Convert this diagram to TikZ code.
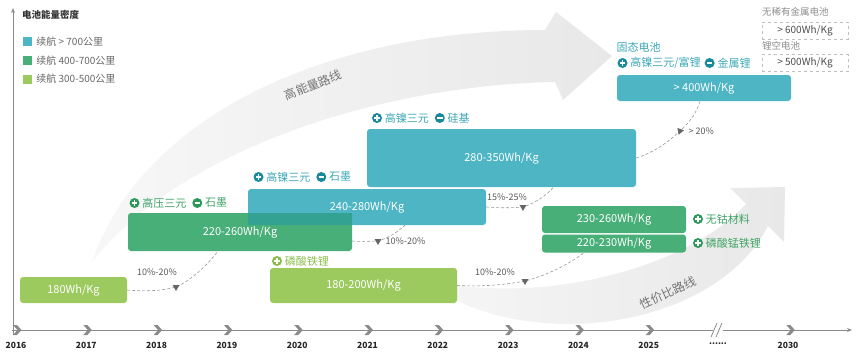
\documentclass[tikz,border=0pt]{standalone}
\usepackage{fontspec}
\setmainfont{Noto Sans CJK SC}
\usetikzlibrary{positioning,shapes.geometric,arrows.meta,backgrounds}

\definecolor{tealbox}{HTML}{4DB5C4}
\definecolor{greenbox}{HTML}{48AF78}
\definecolor{limebox}{HTML}{9CCA5E}
\definecolor{overlapbox}{HTML}{33A293}
\definecolor{tealic}{HTML}{17899A}
\definecolor{greenic}{HTML}{2B9A58}
\definecolor{limeic}{HTML}{86BD45}
\definecolor{tealtx}{HTML}{3CA7B7}
\definecolor{greentx}{HTML}{3FA466}
\definecolor{limetx}{HTML}{8DBE4E}
\definecolor{axisgray}{HTML}{8A8A8A}

\begin{document}
\begin{tikzpicture}[x=1pt,y=-1pt]
\tikzstyle{box} = [rectangle, rounded corners=3pt, text=white, inner sep=0pt,
font=\fontsize{11}{13}\selectfont]
\tikzstyle{dbox} = [rectangle, draw=gray!50, dashed, text=black!70, inner sep=0pt,
minimum width=86pt, minimum height=17pt, font=\fontsize{10}{12}\selectfont]
\tikzstyle{ic} = [circle, inner sep=0pt, minimum size=10pt]
\tikzstyle{plus} = [ic, path picture={\draw[white, line width=1.4pt]
([xshift=-2.7pt]path picture bounding box.center) -- ([xshift=2.7pt]path picture bounding box.center)
([yshift=-2.7pt]path picture bounding box.center) -- ([yshift=2.7pt]path picture bounding box.center);}]
\tikzstyle{minus} = [ic, path picture={\draw[white, line width=1.4pt]
([xshift=-2.7pt]path picture bounding box.center) -- ([xshift=2.7pt]path picture bounding box.center);}]
\tikzstyle{ann} = [inner sep=0.5pt, font=\fontsize{11}{12}\selectfont]
\tikzstyle{pct} = [inner sep=0pt, text=black!65, font=\fontsize{9}{10}\selectfont]
\tikzstyle{tri} = [regular polygon, regular polygon sides=3, shape border rotate=180,
fill=black!60, inner sep=0pt, minimum size=8pt]
\tikzstyle{link} = [draw=black!40, densely dashed, line width=0.6pt]
\tikzstyle{rlabel} = [inner sep=0pt, text=black!55, font=\fontsize{12}{14}\selectfont]
\tikzstyle{year} = [inner sep=0pt, text=black!85, font=\bfseries\fontsize{8.5}{10}\selectfont]
\tikzstyle{chev} = [fill=axisgray]
\tikzstyle{legsq} = [rectangle, inner sep=0pt, minimum size=9pt]
\tikzstyle{legtxt} = [inner sep=0pt, text=black!60, font=\fontsize{10}{11}\selectfont]
\tikzstyle{gtxt} = [inner sep=0pt, anchor=west, text=black!45, font=\fontsize{9.5}{11}\selectfont]

\useasboundingbox (0,0) rectangle (865,360);

% axes
\draw[axisgray, line width=0.8pt, -{Stealth[length=5pt,width=4pt]}] (13,335) -- (13,8);
\draw[axisgray, line width=0.8pt, -{Stealth[length=5pt,width=4pt]}] (12,330) -- (852,330);
\foreach \i in {0,...,9,11}
  \fill[chev] ({16+70.3*\i-3},325) -- ++(4,0) -- ++(4.5,5) -- ++(-4.5,5) -- ++(-4,0) -- ++(4.5,-5) -- cycle;
\fill[white] (713,327) rectangle (723,333);
\draw[axisgray, line width=0.8pt] (711,337) -- (717,323) (716,337) -- (722,323);
\foreach \yr [count=\i from 0] in {2016,...,2025}
  \node[year] (y\yr) at ({16+70.3*\i},345) {\yr};
\node[year] (ydots) at (718,344) {......};
\node[year] (y2030) at (788,345) {2030};

% legend
\node[inner sep=0pt, anchor=west, font=\bfseries\fontsize{9.5}{11}\selectfont, text=black!80] (title) at (22,15) {电池能量密度};
\node[legsq, fill=tealbox] (l1) at (27.5,41.5) {};
\node[legtxt, right=4pt of l1] (lt1) {续航 > 700公里};
\node[legsq, fill=greenbox] (l2) at (27.5,60.5) {};
\node[legtxt, right=4pt of l2] (lt2) {续航 400-700公里};
\node[legsq, fill=limebox] (l3) at (27.5,79) {};
\node[legtxt, right=4pt of l3] (lt3) {续航 300-500公里};

% boxes
\node[box, fill=limebox, minimum width=107pt, minimum height=26pt] (e180) at (73.5,290) {180Wh/Kg};
\node[box, fill=tealbox, minimum width=238pt, minimum height=36pt] (e240) at (367,207) {240-280Wh/Kg};
\node[box, fill=greenbox, minimum width=224pt, minimum height=38pt] (e220) at (240,232) {220-260Wh/Kg};
\fill[overlapbox] (e240.west |- e220.north) rectangle (e220.east |- e240.south);
\node[box, fill=limebox, minimum width=187pt, minimum height=35pt] (e180200) at (363.5,285.5) {180-200Wh/Kg};
\node[box, fill=tealbox, minimum width=269pt, minimum height=58pt] (e280) at (501.5,158) {280-350Wh/Kg};
\node[box, fill=greenbox, minimum width=144pt, minimum height=27pt] (e230) at (614,219.5) {230-260Wh/Kg};
\node[box, fill=greenbox, minimum width=144pt, minimum height=18pt] (e220230) at (614,243.5) {220-230Wh/Kg};
\node[box, fill=tealbox, minimum width=174pt, minimum height=26pt] (e400) at (704,88) {> 400Wh/Kg};
\node[dbox] (d600) at (805,30.5) {> 600Wh/Kg};
\node[dbox] (d500) at (805,63) {> 500Wh/Kg};
\node[gtxt] (n600) at (762,12) {无稀有金属电池};
\node[gtxt] (n500) at (762,46) {锂空电池};

% materials
\node[plus, fill=greenic] (p1) at (134.5,203) {};
\node[ann, text=greentx, right=2pt of p1] (a1) {高压三元};
\node[minus, fill=greenic, right=5pt of a1] (m1) {};
\node[ann, text=greentx, right=2pt of m1] (b1) {石墨};
\node[plus, fill=tealic] (p2) at (258.5,177) {};
\node[ann, text=tealtx, right=2pt of p2] (a2) {高镍三元};
\node[minus, fill=tealic, right=5pt of a2] (m2) {};
\node[ann, text=tealtx, right=2pt of m2] (b2) {石墨};
\node[plus, fill=tealic] (p3) at (377,118) {};
\node[ann, text=tealtx, right=2pt of p3] (a3) {高镍三元};
\node[minus, fill=tealic, right=5pt of a3] (m3) {};
\node[ann, text=tealtx, right=2pt of m3] (b3) {硅基};
\node[plus, fill=limeic] (p4) at (277,261) {};
\node[ann, text=limetx, right=2pt of p4] (a4) {磷酸铁锂};
\node[ann, text=tealtx, anchor=west] (s5) at (616,47) {固态电池};
\node[plus, fill=tealic] (p5) at (622.5,63) {};
\node[ann, text=tealtx, right=2pt of p5] (a5) {高镍三元/富锂};
\node[minus, fill=tealic, right=3pt of a5] (m5) {};
\node[ann, text=tealtx, right=2pt of m5] (b5) {金属锂};
\node[plus, fill=greenic] (p6) at (698,219) {};
\node[ann, text=greentx, right=2pt of p6] (a6) {无钴材料};
\node[plus, fill=greenic] (p7) at (698,243) {};
\node[ann, text=greentx, right=2pt of p7] (a7) {磷酸锰铁锂};

% growth marks
\node[tri] (t1) at (176,287) {};
\node[tri] (t2) at (378,241) {};
\node[tri] (t3) at (523,207) {};
\node[tri] (t4) at (525,281) {};
\node[tri, shape border rotate=160] (t5) at (680,131) {};
\node[pct] (g1) at (157,272) {10\%-20\%};
\node[pct, right=5pt of t2] (g2) {10\%-20\%};
\node[pct] (g3) at (507,197) {15\%-25\%};
\node[pct] (g4) at (495,272) {10\%-20\%};
\node[pct, right=5pt of t5] (g5) {> 20\%};

\begin{scope}[on background layer]
\shade[left color=black!3, right color=black!9] (92,262) .. controls (140,120) and (320,30) .. (545,30)
  -- (556,12) -- (612,56) -- (563,100) -- (555,82) .. controls (380,85) and (180,150) .. cycle;
\shade[left color=black!4, right color=black!9] (455,285) .. controls (560,300) and (690,265) .. (746,204)
  -- (730,188) -- (785,187) -- (784,242) -- (768,226) .. controls (720,320) and (560,350) .. (455,300) -- cycle;
\draw[link] (e180.east) .. controls (150,292) and (165,290) .. (t1.center)
  .. controls (192,280) and (208,264) .. ([xshift=-22pt]e220.south);
\draw[link] (e220.east |- t2.center) .. controls (362,242) and (370,241) .. (t2.center)
  .. controls (388,238) and (398,232) .. ([xshift=38pt]e240.south);
\draw[link] (e240.east |- t3.center) .. controls (500,208) and (512,208) .. (t3.center)
  .. controls (535,203) and (546,196) .. ([xshift=52pt]e280.south);
\draw[link] (e180200.east) .. controls (485,287) and (510,284) .. (t4.center)
  .. controls (545,276) and (568,265) .. ([xshift=-30pt]e220230.south);
\draw[link] (e280.east) .. controls (655,152) and (668,142) .. (t5.center)
  .. controls (690,122) and (697,112) .. ([xshift=-4pt]e400.south);
\end{scope}

\node[rlabel, rotate=22] (r1) at (313,85) {高能量路线};
\node[rlabel, rotate=25] (r2) at (668,293) {性价比路线};
\end{tikzpicture}
\end{document}
